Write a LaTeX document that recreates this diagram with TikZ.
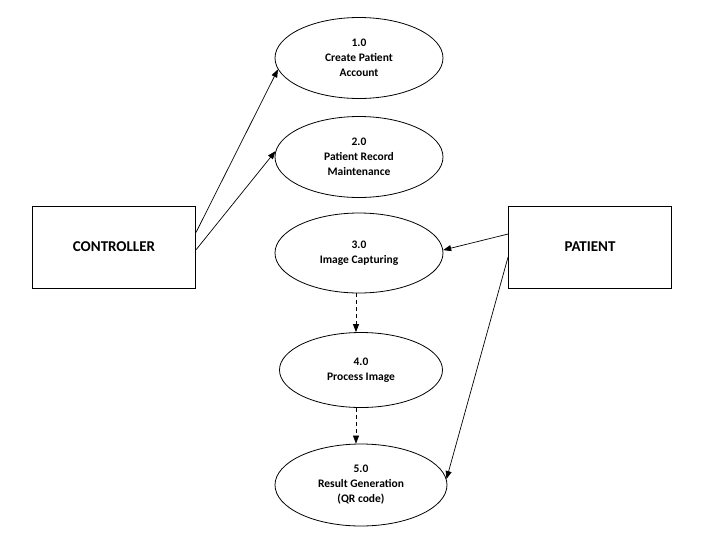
\documentclass[tikz,border=0pt]{standalone}
\usepackage{fontspec}
\setmainfont{Carlito}
\usetikzlibrary{arrows.meta,shapes.geometric,calc}
\tikzset{%
  process/.style = {shape=ellipse, draw, align=center, line width=0.8pt,%
                    minimum width=168pt, minimum height=81pt, inner sep=0pt,%
                    font=\fontsize{11.5}{15}\selectfont\bfseries},%
  entity/.style  = {shape=rectangle, draw, line width=0.9pt,%
                    minimum width=163pt, minimum height=82pt,%
                    font=\fontsize{15}{15}\selectfont\bfseries},%
  flow/.style    = {draw, line width=0.7pt, -{Triangle[length=8pt,width=6pt]}},%
  dflow/.style   = {flow, dash pattern=on 4pt off 3pt}%
}
\begin{document}
\begin{tikzpicture}[x=1pt,y=-1pt]
	\useasboundingbox (0,0) rectangle (713,539);
	% processes
	\node [process] (p1) at (359,58)  {1.0\\Create Patient\\Account};
	\node [process] (p2) at (359,157) {2.0\\Patient Record\\Maintenance};
	\node [process, minimum height=80pt] (p3) at (359,253) {3.0\\Image Capturing};
	\node [process, minimum width=163pt, minimum height=75pt] (p4) at (361,370) {4.0\\Process Image};
	\node [process, minimum width=172pt, minimum height=82pt] (p5) at (361,485) {5.0\\Result Generation\\(QR code)};
	% entities
	\node [entity] (ctrl) at (114,247) {CONTROLLER};
	\node [entity] (pat)  at (590,247) {PATIENT};
	% flows
	\draw [flow] (ctrl.10) -- (p1.188);
	\draw [flow] (ctrl.-2) -- (p2.176);
	\draw [flow] (pat.171) -- (p3.2);
	\draw [flow] (pat.187) -- (p5.4);
	\draw [dflow] ($(p3.south)+(-3,0)$) -- ($(p4.north)+(-5,0)$);
	\draw [dflow] ($(p4.south)+(-5,0)$) -- ($(p5.north)+(-5,0)$);
\end{tikzpicture}
\end{document}
